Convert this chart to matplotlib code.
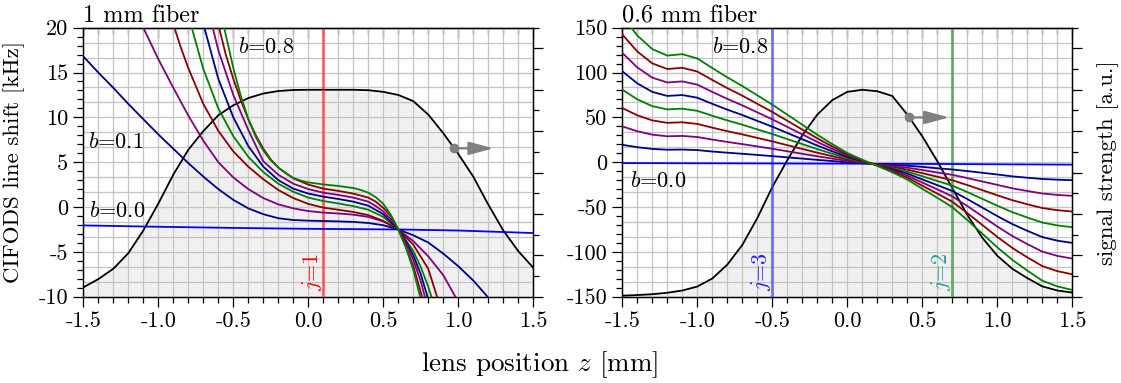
import numpy as np
import matplotlib
matplotlib.use("Agg")
import matplotlib.pyplot as plt
from matplotlib.ticker import MultipleLocator

plt.rcParams.update({
    "font.family": "serif",
    "font.serif": ["cmr10"],
    "mathtext.fontset": "cm",
    "axes.unicode_minus": False,
    "axes.formatter.use_mathtext": True,
    "font.size": 16,
    "axes.linewidth": 0.9,
})

# ---------------------------------------------------------------- data
z_grid = np.linspace(-1.5, 1.5, 31)

x_ticks = [-1.5, -1.0, -0.5, 0.0, 0.5, 1.0, 1.5]
x_tick_labels = ["-1.5", "-1.0", "-0.5", "0.0", "0.5", "1.0", "1.5"]
y1_ticks = [-10, -5, 0, 5, 10, 15, 20]
y1_tick_labels = ["-10", "-5", "0", "5", "10", "15", "20"]
y2_ticks = [-150, -100, -50, 0, 50, 100, 150]
y2_tick_labels = ["-150", "-100", "-50", "0", "50", "100", "150"]

b_values = [0.0, 0.1, 0.2, 0.3, 0.4, 0.5, 0.6, 0.7, 0.8]
b_colors = ["#0000ff", "#00008b", "#800080", "#8b0000", "#008000",
            "#00008b", "#800080", "#8b0000", "#008000"]

# 1 mm fiber: CIFODS line shift [kHz] for b = 0.0 ... 0.8
shift_1mm_x = [
    [-1.5, -1.0, -0.5, 0.0, 0.5, 0.6, 1.0, 1.5],
    [-1.5, -1.4, -1.3, -1.2, -1.1, -1.0, -0.9, -0.8, -0.7, -0.6, -0.5, -0.4, -0.3,
     -0.2, -0.1, 0.0, 0.1, 0.2, 0.3, 0.4, 0.5, 0.6, 0.7, 0.8, 0.9, 1.0, 1.1, 1.2, 1.3],
    [-1.2, -1.1, -1.0, -0.9, -0.8, -0.7, -0.6, -0.5, -0.4, -0.3, -0.2, -0.1, 0.0,
     0.1, 0.2, 0.3, 0.4, 0.5, 0.6, 0.7, 0.8, 0.9, 1.0],
    [-0.95, -0.9, -0.85, -0.8, -0.7, -0.6, -0.5, -0.4, -0.3, -0.2, -0.1, 0.0,
     0.1, 0.2, 0.3, 0.4, 0.5, 0.6, 0.7, 0.8, 0.86],
    [-0.82, -0.777, -0.7, -0.6, -0.5, -0.4, -0.3, -0.2, -0.1, 0.0, 0.1, 0.2,
     0.3, 0.4, 0.5, 0.6, 0.7, 0.75, 0.8, 0.83],
    [-0.73, -0.693, -0.6, -0.5, -0.4, -0.3, -0.2, -0.1, 0.0, 0.1, 0.2, 0.3,
     0.4, 0.5, 0.6, 0.65, 0.7, 0.75, 0.8],
    [-0.67, -0.637, -0.6, -0.5, -0.4, -0.3, -0.2, -0.1, 0.0, 0.1, 0.2, 0.3,
     0.4, 0.45, 0.5, 0.55, 0.6, 0.65, 0.7, 0.75, 0.78],
    [-0.62, -0.595, -0.55, -0.5, -0.45, -0.4, -0.35, -0.3, -0.25, -0.2, -0.1,
     0.0, 0.1, 0.2, 0.3, 0.4, 0.45, 0.5, 0.55, 0.6, 0.65, 0.7, 0.76],
    [-0.59, -0.561, -0.5, -0.45, -0.4, -0.35, -0.3, -0.25, -0.2, -0.15, -0.1,
     -0.05, 0.0, 0.1, 0.2, 0.3, 0.35, 0.4, 0.45, 0.5, 0.55, 0.6, 0.65, 0.7, 0.745],
]
shift_1mm_y = [
    [-2.05, -2.2, -2.33, -2.43, -2.49, -2.5, -2.62, -2.9],
    [16.8, 15.0, 13.3, 11.5, 9.8, 8.1, 6.5, 4.9, 3.4, 2.0, 0.8, -0.15, -0.8,
     -1.25, -1.45, -1.52, -1.56, -1.6, -1.66, -1.78, -2.03, -2.5, -3.15, -3.96,
     -5.2, -6.6, -8.2, -10.1, -12.0],
    [24.0, 20.0, 16.5, 13.3, 10.2, 7.4, 5.0, 3.3, 2.0, 1.0, 0.3, -0.15, -0.45,
     -0.62, -0.72, -0.85, -1.1, -1.6, -2.5, -3.8, -5.5, -7.6, -10.6],
    [23.5, 20.4, 17.8, 15.5, 11.5, 8.5, 6.2, 4.5, 3.1, 1.9, 1.0, 0.35,
     -0.07, -0.3, -0.55, -0.9, -1.55, -2.5, -4.2, -6.9, -10.1],
    [23.0, 20.0, 15.4, 11.0, 7.9, 5.6, 3.9, 2.6, 1.7, 1.05, 0.67, 0.4,
     0.1, -0.3, -1.1, -2.5, -4.9, -6.7, -8.9, -10.5],
    [23.0, 20.0, 14.3, 10.0, 6.8, 4.5, 3.0, 2.05, 1.5, 1.16, 0.9, 0.6,
     0.15, -0.8, -2.5, -3.8, -5.4, -7.5, -10.3],
    [23.0, 20.0, 17.5, 12.5, 8.6, 5.1, 3.6, 2.6, 2.0, 1.6, 1.35, 1.05,
     0.6, 0.1, -0.5, -1.35, -2.5, -4.0, -5.9, -8.3, -10.2],
    [22.5, 20.0, 17.0, 14.3, 11.9, 9.8, 8.0, 6.5, 5.3, 4.4, 3.2,
     2.5, 2.05, 1.8, 1.5, 1.05, 0.6, -0.1, -1.0, -2.5, -4.4, -6.6, -10.1],
    [22.5, 20.0, 15.5, 12.4, 9.8, 7.8, 6.3, 5.2, 4.4, 3.75, 3.25,
     2.95, 2.75, 2.52, 2.35, 2.12, 1.9, 1.6, 1.1, 0.35, -0.85, -2.5, -4.5, -7.0, -10.0],
]

# 0.6 mm fiber: CIFODS line shift [kHz] for b = 0.0 ... 0.8
shift_06mm_x = [[-1.5, -1.0, -0.5, 0.0, 0.5, 1.0, 1.5]] + [list(z_grid)] * 8
shift_06mm_y = [
    [-1.0, -1.2, -1.4, -1.6, -1.9, -2.3, -2.7],
    [19.4, 16.7, 14.8, 13.9, 14.1, 13.5, 11.9, 10.6, 9.4, 8.1, 6.8, 5.4, 4.0, 2.6,
     1.3, -0.2, -1.15, -2.0, -2.9, -3.9, -5.2, -6.8, -8.1, -9.9, -11.8, -13.7,
     -15.8, -17.3, -18.7, -19.5, -20.0],
    [39.9, 34.5, 30.7, 28.9, 29.3, 28.1, 25.2, 22.6, 20.2, 17.6, 15.0, 12.2, 9.4,
     6.6, 4.0, 1.3, -0.6, -2.3, -4.1, -6.1, -8.7, -11.5, -14.1, -17.7, -21.5,
     -25.3, -29.1, -32.1, -34.9, -36.5, -37.5],
    [60.4, 52.3, 46.6, 43.9, 44.5, 42.7, 38.5, 34.6, 31.0, 27.1, 23.2, 19.0, 14.8,
     10.6, 6.7, 2.8, -0.05, -2.6, -5.3, -8.3, -12.2, -16.2, -20.1, -25.5, -31.2,
     -36.9, -42.4, -46.9, -51.1, -53.5, -55.0],
    [80.9, 70.1, 62.5, 58.9, 59.7, 57.3, 51.8, 46.6, 41.8, 36.6, 31.4, 25.8, 20.2,
     14.6, 9.4, 4.3, 0.5, -2.9, -6.5, -10.5, -15.7, -20.9, -26.1, -33.3, -40.9,
     -48.5, -55.7, -61.7, -67.3, -70.5, -72.5],
    [101.4, 87.9, 78.4, 73.9, 74.9, 71.9, 65.1, 58.6, 52.6, 46.1, 39.6, 32.6, 25.6,
     18.6, 12.1, 5.8, 1.05, -3.2, -7.7, -12.7, -19.2, -25.6, -32.1, -41.1, -50.6,
     -60.1, -69.0, -76.5, -83.5, -87.5, -90.0],
    [121.9, 105.7, 94.3, 88.9, 90.1, 86.5, 78.4, 70.6, 63.4, 55.6, 47.8, 39.4, 31.0,
     22.6, 14.8, 7.3, 1.6, -3.5, -8.9, -14.9, -22.7, -30.3, -38.1, -48.9, -60.3,
     -71.7, -82.3, -91.3, -99.7, -104.5, -107.5],
    [142.4, 123.5, 110.2, 103.9, 105.3, 101.1, 91.7, 82.6, 74.2, 65.1, 56.0, 46.2,
     36.4, 26.6, 17.5, 8.8, 2.15, -3.8, -10.1, -17.1, -26.2, -35.0, -44.1, -56.7,
     -70.0, -83.3, -95.6, -106.1, -115.9, -121.5, -125.0],
    [162.9, 141.3, 126.1, 118.9, 120.5, 115.7, 105.0, 94.6, 85.0, 74.6, 64.2, 53.0,
     41.8, 30.6, 20.2, 10.3, 2.7, -4.1, -11.3, -19.3, -29.7, -39.7, -50.1, -64.5,
     -79.7, -94.9, -108.9, -120.9, -132.1, -138.5, -142.5],
]

# signal strength [a.u.] on the common lens-position grid
signal_1mm = [0.045, 0.085, 0.135, 0.21, 0.32, 0.45, 0.59, 0.71, 0.80, 0.877,
              0.925, 0.96, 0.982, 0.994, 0.999, 1.0, 1.0, 1.0, 1.0, 0.998,
              0.99, 0.975, 0.945, 0.88, 0.79, 0.69, 0.58, 0.445, 0.32, 0.22, 0.14]
signal_06mm = [0.005, 0.008, 0.012, 0.019, 0.03, 0.049, 0.088, 0.155, 0.25, 0.38,
               0.53, 0.66, 0.78, 0.88, 0.95, 0.99, 1.0, 0.993, 0.97, 0.88,
               0.775, 0.655, 0.525, 0.395, 0.285, 0.198, 0.135, 0.09, 0.05, 0.03, 0.02]

# resonance positions j
j_1mm = [("1", 0.1, "#ff2020", "#ff0000")]
j_06mm = [("3", -0.5, "#3a3aff", "#2020ff"), ("2", 0.7, "#2e8b2e", "#2a9d9d")]

# --------------------------------------------------------------- figure
W, H = 1121, 383
fig = plt.figure(figsize=(W / 100, H / 100), dpi=100)

grid_c = "#c4c4c4"
fill_c = "#f0f0f0"
TICK_FS = 16


def panel(left_px, title, xs, ys, ylim, yticks, ylabels, ymin_step,
          signal, marker_z, arrow_z, jlines, blabels):
    ax = fig.add_axes([left_px / W, 1 - 296.7 / H, 450 / W, 269 / H])
    ax2 = ax.twinx()
    ax.set_zorder(ax2.get_zorder() + 1)
    ax.patch.set_visible(False)

    # signal strength (right scale): shaded area under the grid
    ax2.fill_between(z_grid, 0, signal, color=fill_c, lw=0, zorder=1)
    ax2.set_ylim(0, 1.3)
    ax2.yaxis.set_major_locator(MultipleLocator(0.2))
    ax2.yaxis.set_minor_locator(MultipleLocator(0.1))
    ax2.tick_params(axis="y", which="major", length=7, width=0.9, direction="out",
                    labelright=False)
    ax2.tick_params(axis="y", which="minor", length=4, width=0.9, direction="out")

    # grid
    ax.set_xlim(-1.5, 1.5)
    ax.set_ylim(*ylim)
    ax.xaxis.set_minor_locator(MultipleLocator(0.1))
    ax.grid(True, axis="x", which="both", color=grid_c, lw=0.9, zorder=0)
    for v in np.linspace(ylim[0], ylim[1], 19)[1:-1]:
        ax.axhline(v, color=grid_c, lw=0.9, zorder=0)
    ax.set_axisbelow(True)

    # signal curve and its axis pointer, in right-scale coordinates
    sig_tr = ax2.transData
    ax.plot(z_grid, signal, color="black", lw=1.3, zorder=2, transform=sig_tr)
    sig_m = float(np.interp(marker_z, z_grid, signal))
    ax.annotate("", xy=(arrow_z, sig_m), xytext=(marker_z, sig_m),
                xycoords=sig_tr, textcoords=sig_tr,
                arrowprops=dict(arrowstyle="-|>,head_length=0.75,head_width=0.2",
                                color="#808080", lw=1.6, mutation_scale=20,
                                shrinkA=0, shrinkB=0), zorder=3)
    ax.plot([marker_z], [sig_m], "o", color="#808080", ms=6, zorder=4,
            transform=sig_tr)

    # resonance markers
    for lab, zj, lc, tc in jlines:
        ax.axvline(zj, color=lc, lw=2.2, alpha=0.6, zorder=2)
        ax.text(zj - 0.075, ylim[0] + 0.02 * (ylim[1] - ylim[0]), "$j$=" + lab,
                color=tc, rotation=90, ha="center", va="bottom", fontsize=16, zorder=5)

    # line shift curves
    for xb, yb, c in zip(xs, ys, b_colors):
        ax.plot(xb, yb, color=c, lw=1.3, zorder=3)

    for bx, by, txt in blabels:
        ax.text(bx, by, txt, ha="left", va="center", fontsize=16, zorder=6)

    ax.set_xticks(x_ticks, labels=x_tick_labels)
    ax.set_yticks(yticks, labels=ylabels)
    ax.yaxis.set_minor_locator(MultipleLocator(ymin_step))
    ax.tick_params(which="major", length=7, width=0.9, direction="out", pad=4,
                   labelsize=TICK_FS)
    ax.tick_params(which="minor", length=4, width=0.9, direction="out")
    top = ax.secondary_xaxis("top")
    top.set_xticks(x_ticks)
    top.xaxis.set_minor_locator(MultipleLocator(0.1))
    top.tick_params(which="major", length=7, width=0.9, direction="in", labeltop=False)
    top.tick_params(which="minor", length=4, width=0.9, direction="in")
    ax.set_title(title, loc="left", pad=4, fontsize=17.5)
    return ax, ax2


axL, axL2 = panel(83.3, "1 mm fiber", shift_1mm_x, shift_1mm_y, (-10, 20),
                  y1_ticks, y1_tick_labels, 1, signal_1mm, 0.973, 1.235, j_1mm,
                  [(-0.47, 17.9, "$b$=0.8"), (-1.47, 7.3, "$b$=0.1"),
                   (-1.46, -0.45, "$b$=0.0")])
axR, axR2 = panel(622.3, "0.6 mm fiber", shift_06mm_x, shift_06mm_y, (-150, 150),
                  y2_ticks, y2_tick_labels, 10, signal_06mm, 0.413, 0.68, j_06mm,
                  [(-0.9, 129, "$b$=0.8"), (-1.45, -21, "$b$=0.0")])

axL.set_ylabel("CIFODS line shift [kHz]", fontsize=16.5)
axL.yaxis.set_label_coords((25 - 83.3) / 450, 0.5)
axR2.set_ylabel("signal strength [a.u.]", fontsize=16.5, rotation=90)
axR2.yaxis.set_label_coords((1097 - 622.3) / 450, 0.5)

fig.text(540 / W, 1 - 365 / H, "lens position $z$ [mm]", ha="center", va="center",
         fontsize=19.5)

fig.savefig("out.png", dpi=100)
